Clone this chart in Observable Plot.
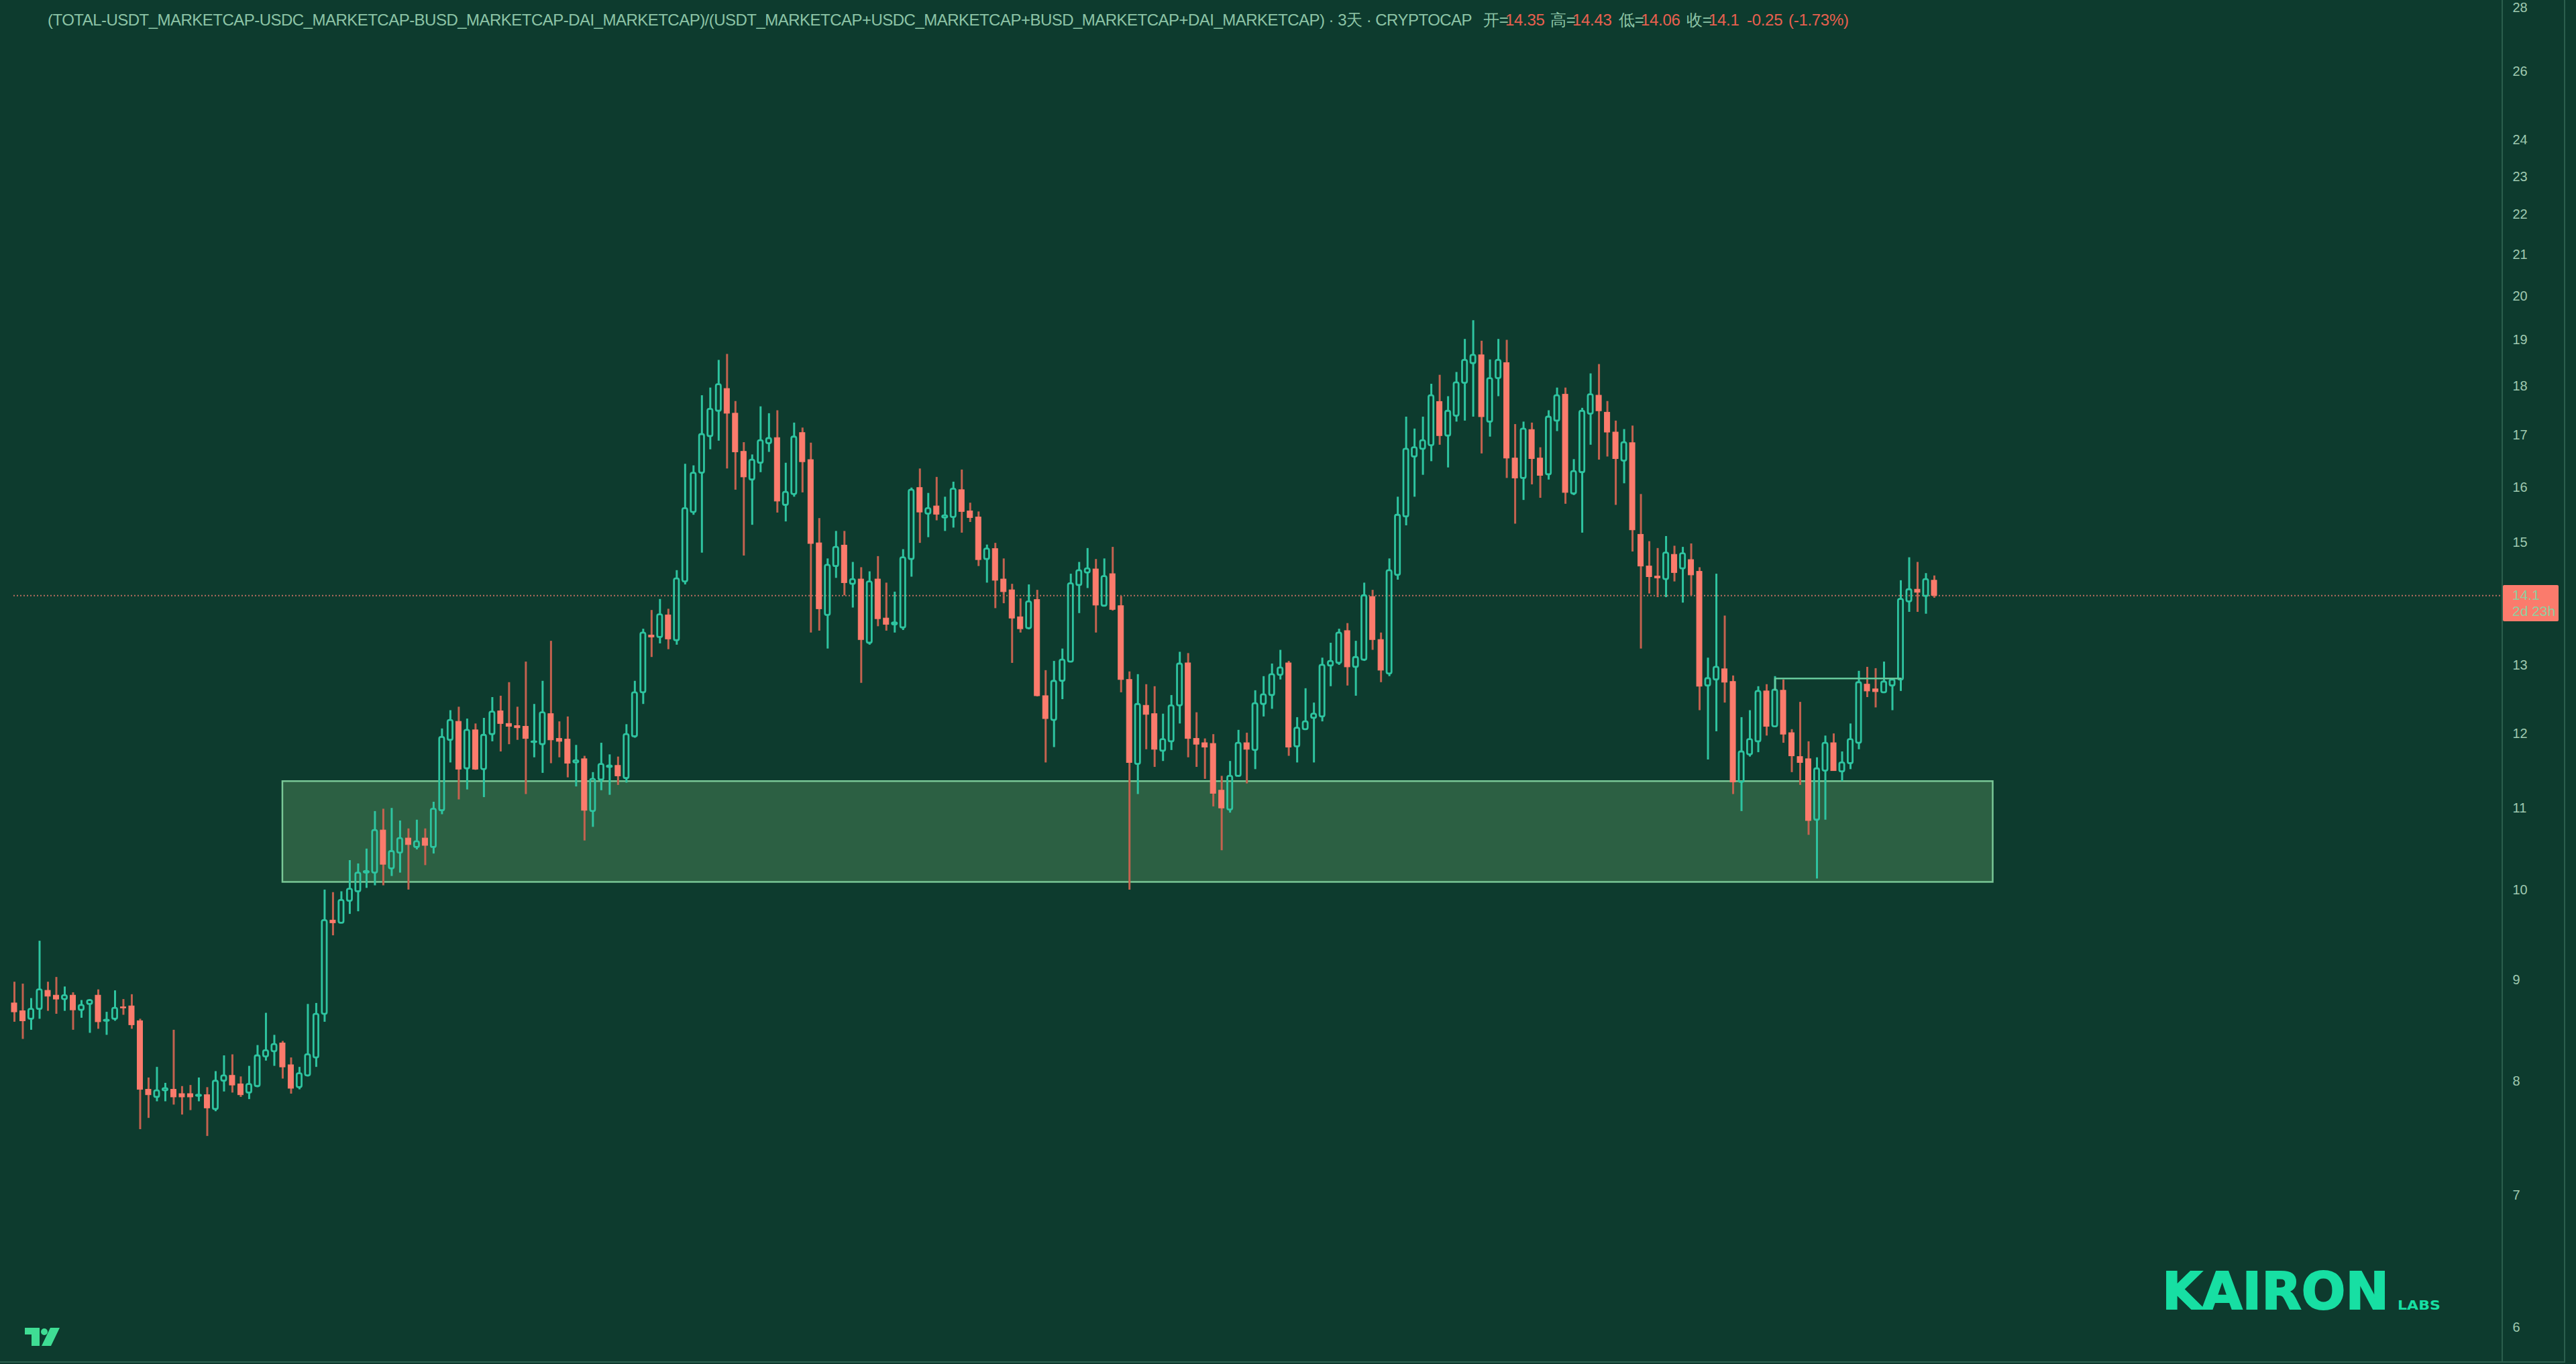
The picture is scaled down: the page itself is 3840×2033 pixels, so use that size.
<!DOCTYPE html>
<html><head><meta charset="utf-8">
<script src="https://cdn.jsdelivr.net/npm/d3@7"></script>
<script src="https://cdn.jsdelivr.net/npm/@observablehq/plot@0.6"></script>
<style>
html,body{margin:0;padding:0;width:3840px;height:2033px;overflow:hidden;background:#0d3b2e;font-family:"Liberation Sans",sans-serif}
#chart{position:absolute;left:0;top:0}
.ov{position:absolute;white-space:nowrap}
#title{left:71px;top:16px;font-size:24px;line-height:28px;color:#8cc4a6;letter-spacing:-.52px}
.o{position:absolute;top:16px;font-size:24px;line-height:28px;white-space:nowrap;color:#e8604f;letter-spacing:-.3px}
.o.k{color:#8cc4a6}
#tag{left:3731px;top:872px;width:83px;height:54px;background:#fb7b6c;border-radius:2px;color:#8fcf9f;font-size:21px;line-height:24px;padding:3px 0 0 14px;box-sizing:border-box}
.line{position:absolute;background:#2b5e4d}
</style></head><body>
<div id="chart"></div>
<div class="ov" id="title"></div>
<div id="ohlc"></div>
<div class="ov" id="tag"></div>
<div class="line" style="left:3729px;top:0;width:2px;height:2029px"></div>
<div class="line" style="left:3822px;top:0;width:2px;height:2029px"></div>
<div class="line" style="left:0;top:2029px;width:3824px;height:2px"></div>
<svg class="ov" style="left:3200px;top:1880px" width="460" height="90">
<text id="logoA" x="23" y="71" font-family="DejaVu Sans" font-weight="700" font-size="76" fill="#17dfa3" stroke="#17dfa3" stroke-width="2" textLength="338" lengthAdjust="spacingAndGlyphs"></text>
<text id="logoB" x="374" y="72" font-family="DejaVu Sans" font-weight="700" font-size="20" fill="#17dfa3" textLength="64" lengthAdjust="spacingAndGlyphs"></text>
</svg>
<svg class="ov" style="left:37px;top:1979px" width="52" height="27">
<path d="M0 0H22V27H10V10H0Z M38 0H52L39 27H25Z" fill="#3fdd94"/><circle cx="29" cy="6" r="5" fill="#3fdd94"/>
</svg>
<script>
const titleText = "(TOTAL-USDT_MARKETCAP-USDC_MARKETCAP-BUSD_MARKETCAP-DAI_MARKETCAP)/(USDT_MARKETCAP+USDC_MARKETCAP+BUSD_MARKETCAP+DAI_MARKETCAP) · 3天 · CRYPTOCAP";
const ohlcLabels = ["开=","高=","低=","收="];
const ohlcValues = ["14.35","14.43","14.06","14.1"];
const changeText = ["-0.25","(-1.73%)"];
const priceTicks = [6,7,8,9,10,11,12,13,15,16,17,18,19,20,21,22,23,24,26,28];
const lastPrice = 14.1;
const lastLabel = ["14.1","2d 23h"];
const zoneLow = 10.09, zoneHigh = 11.35, zoneStart = 32, zoneEnd = 236;
const stepLevel = 12.8, stepStart = 210, stepEnd = 225, stepFoot = 12.63;
const dirs = (
"DDUUDDUDUU"+"DUUDDDDUUD"+"DDUDUUDDUU"+"UUDDUUUUDU"+"UUUUDUUDUD"+
"UUUDUDUUDD"+"DDUUDDDUDU"+"UUDUUUDUDU"+"UUUUUDDDUU"+"UDUUDDDUUD"+
"UDUDDUUUDU"+"DUUDDDUDDD"+"DUDDUUUUUD"+"UDDDUDDUUU"+"DDDDDUUDUU"+
"UUDUUUUUUD"+"UUDDUUUUUU"+"DUUUUDUUDD"+"UDDUUDUUUD"+"DDUDDDDUDU"+
"DDUUDDUUUD"+"UDDDDUUDUU"+"UDDUUUUDUD").split("");
const highs = [
8.98,8.96,8.81,9.42,8.98,9.03,8.93,8.87,8.79,8.80,
8.90,8.67,8.89,8.80,8.85,8.60,8.03,8.13,7.98,8.49,
7.95,7.96,8.03,7.94,8.09,8.24,8.25,8.04,8.14,8.34,
8.66,8.44,8.38,8.22,8.13,8.75,8.76,10.00,9.97,9.98,
10.35,10.31,10.49,10.96,10.99,11.00,10.84,10.74,10.85,10.74,
11.08,12.07,12.33,12.38,12.21,12.14,12.22,12.52,12.54,12.74,
12.38,13.05,12.42,12.76,13.37,12.17,12.24,11.84,11.69,11.47,
11.87,11.71,11.68,12.13,12.76,13.56,13.86,14.04,13.88,14.52,
16.44,16.41,17.81,17.97,18.56,18.69,17.69,16.86,16.62,17.58,
17.44,17.50,16.46,17.25,17.15,16.85,15.43,14.72,15.20,15.20,
14.66,14.57,14.50,14.76,14.31,14.16,14.88,15.99,16.35,15.89,
16.19,15.82,16.10,16.33,15.71,15.55,14.96,14.99,14.72,14.29,
14.05,14.28,14.19,12.92,13.06,13.25,14.46,14.66,14.90,14.71,
14.72,14.92,14.09,12.90,12.86,12.71,12.68,12.28,12.55,13.20,
13.18,12.30,11.93,11.99,11.42,11.62,12.05,12.01,12.62,12.83,
13.02,13.23,13.06,12.23,12.65,12.44,13.11,13.34,13.56,13.65,
13.37,14.31,14.19,13.50,14.72,15.82,17.37,17.13,17.37,18.05,
18.24,17.79,18.30,19.02,19.44,18.98,18.57,19.02,19.00,17.22,
17.27,17.25,16.76,17.50,17.97,17.97,16.53,17.55,18.27,18.47,
17.69,17.29,17.12,17.19,15.87,15.02,14.90,15.11,14.94,14.92,
14.98,14.57,13.11,14.46,13.77,12.84,12.23,12.33,12.68,12.71,
12.83,12.78,12.06,12.45,11.89,11.67,11.97,12.00,11.75,12.14,
12.91,12.97,12.95,13.05,12.79,14.35,14.74,14.66,14.47,14.43];
const bodyTops = [
8.76,8.68,8.70,8.90,8.89,8.84,8.84,8.84,8.74,8.79,
8.84,8.59,8.71,8.72,8.73,8.58,7.92,7.91,7.93,7.92,
7.88,7.88,7.87,7.87,8.00,8.05,8.05,7.97,7.97,8.24,
8.29,8.35,8.36,8.15,8.07,8.25,8.65,9.65,9.65,9.88,
10.01,10.20,10.22,10.72,10.72,10.46,10.62,10.62,10.58,10.62,
10.99,11.95,12.19,12.17,12.05,12.05,11.98,12.31,12.32,12.14,
12.11,12.10,11.89,12.30,12.28,11.93,11.92,11.63,11.65,11.38,
11.58,11.56,11.56,11.99,12.59,13.50,13.46,13.79,13.78,14.38,
15.61,16.27,17.02,17.53,18.04,17.95,17.44,16.68,16.52,16.90,
16.94,16.95,15.91,16.97,17.05,16.52,14.99,14.61,14.92,14.95,
14.37,14.37,14.33,14.37,13.73,13.66,14.74,15.95,15.99,15.61,
15.65,15.48,15.97,15.95,15.56,15.45,14.89,14.89,14.37,14.19,
13.75,14.00,14.03,12.54,12.76,13.08,14.30,14.52,14.55,14.54,
14.42,14.46,13.93,12.78,12.42,12.40,12.28,11.92,12.40,13.02,
13.03,11.93,11.87,11.86,11.23,11.42,11.87,11.87,12.43,12.56,
12.86,12.96,13.03,12.08,12.17,12.28,13.00,13.06,13.50,13.53,
13.12,14.10,14.08,13.39,14.52,15.49,16.73,16.76,16.90,17.81,
17.68,17.49,18.08,18.56,18.67,18.67,18.17,18.56,18.50,16.55,
17.13,17.11,16.55,17.37,17.81,17.83,16.30,17.49,17.83,17.81,
17.46,17.06,16.86,16.85,15.14,14.59,14.42,14.82,14.79,14.81,
14.70,14.50,12.80,12.97,12.94,12.75,11.75,11.92,12.61,12.61,
12.63,12.62,12.01,11.68,11.65,11.52,11.87,11.87,11.60,11.92,
12.74,12.71,12.64,12.75,12.78,14.04,14.20,14.20,14.37,14.35];
const bodyBottoms = [
8.67,8.58,8.60,8.70,8.83,8.80,8.80,8.69,8.69,8.75,
8.57,8.58,8.60,8.71,8.54,7.92,7.87,7.85,7.91,7.85,
7.85,7.85,7.86,7.75,7.74,8.00,7.96,7.87,7.89,7.95,
8.23,8.28,8.13,7.93,7.94,8.05,8.22,8.65,9.62,9.62,
9.87,9.98,10.20,10.20,10.30,10.25,10.44,10.54,10.51,10.53,
10.51,10.97,11.91,11.51,11.52,11.51,11.51,11.99,12.14,12.10,
12.08,11.93,11.88,11.85,11.91,11.89,11.59,11.60,10.97,10.96,
11.37,11.54,11.42,11.39,11.96,12.59,13.43,13.43,13.40,13.38,
14.33,15.54,16.27,16.98,17.49,17.44,16.67,16.19,16.14,16.46,
16.84,15.74,15.67,15.87,16.48,14.98,13.88,13.78,14.59,14.31,
14.29,13.39,13.34,13.72,13.63,13.63,13.58,14.71,15.54,15.51,
15.50,15.44,15.45,15.55,15.44,14.70,14.71,14.35,14.16,13.73,
13.56,13.57,12.54,12.21,12.19,12.76,13.05,14.27,14.48,13.94,
13.93,13.87,12.78,11.60,11.58,12.27,11.78,11.76,11.89,12.40,
11.93,11.85,11.81,11.19,11.00,10.98,11.42,11.78,11.77,12.42,
12.55,12.85,11.81,11.82,12.06,12.22,12.24,12.99,13.03,12.97,
12.97,13.08,13.39,12.92,12.87,14.44,15.46,16.58,16.73,16.80,
16.99,16.99,17.39,18.07,18.49,17.37,17.27,18.17,16.55,16.17,
16.17,16.54,16.22,16.24,17.29,15.90,15.88,16.28,17.43,17.49,
17.06,16.54,16.50,15.22,14.59,14.41,14.39,14.37,14.48,14.55,
14.44,12.68,12.69,12.78,12.74,11.34,11.34,11.71,11.89,12.10,
12.10,11.99,11.69,11.60,10.84,10.85,11.49,11.49,11.48,11.59,
11.87,12.61,12.60,12.59,12.69,12.78,14.00,14.15,14.09,14.10];
const lows = [
8.57,8.40,8.49,8.60,8.68,8.65,8.68,8.49,8.61,8.46,
8.50,8.44,8.58,8.64,8.50,7.56,7.66,7.81,7.81,7.78,
7.69,7.73,7.81,7.50,7.72,7.90,7.89,7.85,7.83,7.94,
8.19,8.14,8.02,7.88,7.92,8.04,8.13,8.57,9.48,9.62,
9.72,9.75,10.02,10.05,10.05,10.16,10.20,10.00,10.48,10.29,
10.43,10.92,11.60,11.11,11.24,11.50,11.14,11.89,11.75,11.85,
11.91,11.18,11.67,11.46,11.59,11.67,11.40,11.28,10.59,10.76,
11.23,11.17,11.30,11.33,11.94,12.42,13.12,13.33,13.24,13.31,
14.28,15.49,14.82,16.72,16.89,16.35,15.95,14.77,15.31,16.28,
16.67,15.53,15.37,15.82,15.90,13.50,13.53,13.25,14.39,14.10,
13.90,12.73,13.31,13.60,13.53,13.50,13.54,14.41,14.99,15.09,
15.39,15.20,15.26,15.17,15.36,14.59,14.31,13.89,13.97,13.03,
13.50,13.55,12.53,11.60,11.81,12.49,13.04,13.81,14.22,13.50,
13.92,13.85,12.59,10.00,11.18,11.78,11.54,11.62,11.77,12.14,
11.67,11.54,11.38,11.02,10.47,10.94,11.41,11.32,11.51,12.24,
12.35,12.78,11.69,11.60,12.06,11.60,12.17,12.68,13.00,12.69,
12.54,13.06,13.23,12.74,12.83,14.36,15.30,15.82,16.23,16.49,
16.81,16.37,17.27,17.29,17.37,16.64,16.97,17.79,16.17,15.33,
15.76,16.05,15.80,16.14,17.08,15.69,15.85,15.17,16.81,16.52,
16.58,15.67,16.07,14.84,13.25,14.13,14.07,14.07,14.33,13.98,
14.10,12.33,11.64,12.03,12.44,11.18,10.96,11.68,11.74,11.97,
12.09,11.87,11.47,11.30,10.66,10.13,10.85,11.49,11.35,11.51,
11.78,12.52,12.37,12.59,12.33,12.61,13.83,13.83,13.80,14.06];

const up="#2ec4a0", down="#fb7b6c", downWick="#c4624f";
const axisColor="#9fc9b0", zoneFill="#2c6043", zoneStroke="#79c796", stepColor="#66c99c";

const candles = dirs.map((d,i)=>({i,up:d==="U",h:highs[i],l:lows[i],t:bodyTops[i],b:bodyBottoms[i]}));
const ups = candles.filter(c=>c.up), downs = candles.filter(c=>!c.up);
const bw = 0.32, uw = 0.29;
const zone = [{x1:zoneStart,x2:zoneEnd,y1:zoneLow,y2:zoneHigh}];
const step = [[stepStart,stepFoot],[stepStart,stepLevel],[stepEnd,stepLevel]];

const chart = Plot.plot({
  width:3840, height:2033, marginLeft:20, marginRight:110, marginTop:0, marginBottom:0,
  style:{background:"transparent",fontFamily:"'Liberation Sans',sans-serif",overflow:"visible"},
  x:{domain:[0,229],range:[21,2883],axis:null},
  y:{type:"log",domain:[6,28],range:[1978,11.5],axis:null},
  marks:[
    Plot.rect(zone,{x1:"x1",x2:"x2",y1:"y1",y2:"y2",fill:zoneFill,stroke:zoneStroke,strokeWidth:2.5}),
    Plot.ruleY([lastPrice],{stroke:"#b96e5f",strokeWidth:2,strokeDasharray:"2 3"}),
    Plot.ruleX(ups,{x:"i",y1:"t",y2:"h",stroke:up,strokeWidth:3}),
    Plot.ruleX(ups,{x:"i",y1:"l",y2:"b",stroke:up,strokeWidth:3}),
    Plot.rect(ups,{x1:d=>d.i-uw,x2:d=>d.i+uw,y1:"b",y2:"t",fill:"none",stroke:up,strokeWidth:2.8,rx:2.5}),
    Plot.ruleX(downs,{x:"i",y1:"l",y2:"h",stroke:downWick,strokeWidth:3}),
    Plot.rect(downs,{x1:d=>d.i-bw,x2:d=>d.i+bw,y1:"b",y2:"t",fill:down,stroke:down,strokeWidth:1}),
    Plot.line(step,{x:d=>d[0],y:d=>d[1],stroke:stepColor,strokeWidth:2.5}),
    Plot.axisY(priceTicks,{anchor:"right",tickSize:0,tickPadding:15,tickFormat:d=>String(d),fontSize:20,fill:axisColor,label:null})
  ]
});
document.getElementById("chart").append(chart);

document.getElementById("title").textContent = titleText;
const ohlc = document.getElementById("ohlc");
const labelX=[2211,2311,2413,2514], valueX=[2244,2344,2446,2547], changeX=[2604,2666];
function add(text,x,cls){const s=document.createElement("span");s.className=cls;s.style.left=x+"px";s.textContent=text;ohlc.append(s);}
ohlcLabels.forEach((t,i)=>{add(t,labelX[i],"o k");add(ohlcValues[i],valueX[i],"o");});
changeText.forEach((t,i)=>add(t,changeX[i],"o"));
document.getElementById("tag").innerHTML = lastLabel.join("<br>");
document.getElementById("logoA").textContent="KAIRON";
document.getElementById("logoB").textContent="LABS";
</script>
</body></html>
